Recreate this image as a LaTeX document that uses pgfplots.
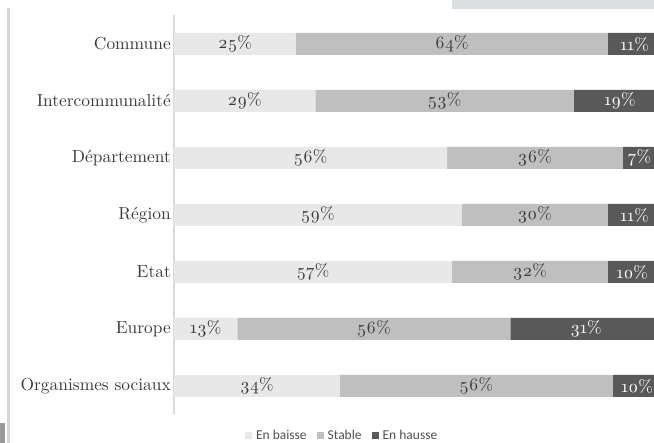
\documentclass[border=0pt]{standalone}
\usepackage{fontspec}
\setmainfont{lmroman10-regular.otf}[Numbers=OldStyle]
\newfontfamily\legfont{Carlito}
\usepackage{pgfplots}
\pgfplotsset{compat=1.18}
\usepackage{pgfplotstable}
\definecolor{cLight}{HTML}{E8E8E8}
\definecolor{cMid}{HTML}{BFBFBF}
\definecolor{cDark}{HTML}{595959}
\definecolor{cText}{HTML}{3A3A3A}
\definecolor{cAxis}{HTML}{D9D9D9}
\definecolor{cTop}{HTML}{DADEDE}
\definecolor{cLine}{HTML}{D6D6D6}
\definecolor{cBlock}{HTML}{9A9A9A}
\definecolor{cLeg}{HTML}{505050}

\pgfplotstableread[col sep=comma]{
y,b,s,h
6,25,64,11
5,29,53,19
4,56,36,7
3,59,30,11
2,57,32,10
1,13,56,31
0,34,56,10
}\data

\begin{document}
\begin{tikzpicture}
\path[use as bounding box, clip] (0pt,0pt) rectangle (654pt,443pt);
\fill[white] (0pt,0pt) rectangle (654pt,443pt);
\fill[cTop] (452pt,434pt) rectangle (654pt,443pt);
\fill[cLine] (7pt,0pt) rectangle (9.5pt,435pt);
\fill[cBlock] (0pt,0pt) rectangle (4.5pt,20pt);

\begin{axis}[
  at={(174pt,28.5pt)}, anchor=south west, scale only axis,
  width=487.5pt, height=399pt,
  xmin=0, xmax=100, ymin=-0.5, ymax=6.5,
  xbar stacked, bar width=22pt,
  axis x line=none, axis y line=left,
  y axis line style={-, draw=cAxis, line width=1.3pt},
  ytick={0,...,6},
  yticklabels={Organismes sociaux, Europe, Etat, Région, Département, Intercommunalité, Commune},
  major tick length=0pt,
  yticklabel style={font=\fontsize{17.4}{19}\selectfont, text=cText, inner sep=0pt},
  yticklabel shift=3pt,
  legend style={at={(0.345,-0.052)}, anchor=center, draw=none, fill=none,
    legend columns=3, font=\legfont\fontsize{13.5}{15}\selectfont, text=cLeg,
    /tikz/every odd column/.append style={column sep=2pt},
    /tikz/every even column/.append style={column sep=8pt}},
  legend image code/.code={\fill[#1] (0pt,-3.5pt) rectangle (7pt,3.5pt);},
]
\addplot[fill=cLight, draw=none] table[x=b, y=y]{\data};
\addlegendentry{En baisse}
\addplot[fill=cMid, draw=none] table[x=s, y=y]{\data};
\addlegendentry{Stable}
\addplot[fill=cDark, draw=none] table[x=h, y=y]{\data};
\addlegendentry{En hausse}
\end{axis}

\begin{axis}[
  at={(174pt,28.5pt)}, anchor=south west, scale only axis,
  width=487.5pt, height=399pt,
  xmin=0, xmax=100, ymin=-0.5, ymax=6.5,
  hide axis, clip=false,
  nodes near coords={\pgfplotspointmeta\%},
  point meta=explicit symbolic,
  every node near coord/.append style={anchor=center, font=\fontsize{17.4}{19}\selectfont, inner sep=0pt},
]
\addplot[only marks, mark=none, every node near coord/.append style={text=cText}]
  table[x expr=\thisrow{b}/2, y=y, meta=b]{\data};
\addplot[only marks, mark=none, every node near coord/.append style={text=cText}]
  table[x expr=\thisrow{b}+\thisrow{s}/2, y=y, meta=s]{\data};
\addplot[only marks, mark=none, every node near coord/.append style={text=white}]
  table[x expr=\thisrow{b}+\thisrow{s}+\thisrow{h}/2, y=y, meta=h]{\data};
\end{axis}
\end{tikzpicture}
\end{document}
